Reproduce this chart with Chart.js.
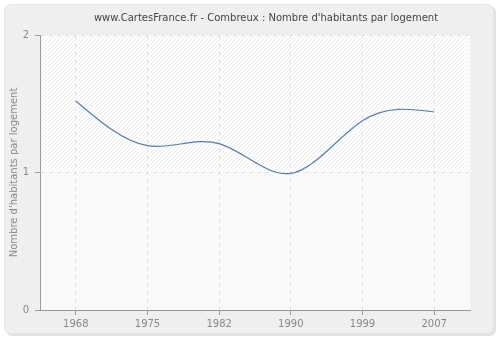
<!DOCTYPE html>
<html>
<head>
<meta charset="utf-8">
<script src="https://cdn.jsdelivr.net/npm/chart.js@4"></script>
<style>
  html, body { margin: 0; padding: 0; background: #ffffff; }
  #wrap { position: relative; width: 500px; height: 340px; }
</style>
</head>
<body>
<div id="wrap"><canvas id="graphique" width="500" height="340"></canvas></div>
<script>
// données du graphique
const annees = ["1968", "1975", "1982", "1990", "1999", "2007"];
const habitantsParLogement = [1.52, 1.195, 1.21, 0.994, 1.377, 1.44];
const ticksY = [0, 1, 2];

const titre = "www.CartesFrance.fr - Combreux : Nombre d'habitants par logement";
const police = "'DejaVu Sans', Verdana, sans-serif";

// fond gris arrondi + zone hachurée
const fondPlugin = {
    id: "fond",
    beforeDraw(chart) {
        const ctx = chart.ctx;
        const a = chart.chartArea;
        ctx.save();
        // ombre
        ctx.fillStyle = "#e2e2e2";
        ctx.beginPath();
        ctx.roundRect(6, 6, 490, 330, 6);
        ctx.fill();
        // panneau
        ctx.fillStyle = "#efefef";
        ctx.strokeStyle = "#e6e6e6";
        ctx.beginPath();
        ctx.roundRect(4.5, 4.5, 489, 329, 6);
        ctx.fill();
        ctx.stroke();

        // zone du graphique
        const yMilieu = chart.scales.y.getPixelForValue(1);
        ctx.fillStyle = "#ffffff";
        ctx.fillRect(a.left, a.top, a.right - a.left, yMilieu - a.top);
        ctx.fillStyle = "#fbfbfb";
        ctx.fillRect(a.left, yMilieu, a.right - a.left, a.bottom - yMilieu);
        const hachures = function (haut, bas, couleur) {
            ctx.save();
            ctx.beginPath();
            ctx.rect(a.left, haut, a.right - a.left, bas - haut);
            ctx.clip();
            ctx.strokeStyle = couleur;
            ctx.lineWidth = 1;
            ctx.beginPath();
            const h = bas - haut;
            for (let x = a.left - h; x < a.right + 4; x += 4) {
                ctx.moveTo(x, bas);
                ctx.lineTo(x + h, haut);
            }
            ctx.stroke();
            ctx.restore();
        };
        hachures(a.top, yMilieu, "#ececec");
        hachures(yMilieu, a.bottom, "#f3f3f3");

        // titre
        ctx.fillStyle = "#444444";
        ctx.font = "10px " + police;
        ctx.textAlign = "center";
        ctx.textBaseline = "middle";
        ctx.fillText(titre, 266, 18);
        ctx.restore();
    }
};

// spline cubique naturelle : on remplace les points de contrôle calculés par Chart.js
const splinePlugin = {
    id: "spline",
    beforeDatasetsDraw(chart) {
        const meta = chart.getDatasetMeta(0);
        const pts = meta.dataset.points;
        const n = pts.length - 1;
        if (n < 2) return;
        const h = pts[1].x - pts[0].x;
        const y = pts.map(p => p.y);
        // système tridiagonal pour les dérivées secondes (M0 = Mn = 0)
        const M = new Array(n + 1).fill(0);
        const c = [], d = [];
        for (let i = 1; i < n; i++) {
            const r = 6 * (y[i + 1] - 2 * y[i] + y[i - 1]) / (h * h);
            const den = 4 - (i > 1 ? c[i - 1] : 0);
            c[i] = 1 / den;
            d[i] = (r - (i > 1 ? d[i - 1] : 0)) / den;
        }
        for (let i = n - 1; i >= 1; i--) {
            M[i] = d[i] - c[i] * (i < n - 1 ? M[i + 1] : 0);
        }
        for (let i = 0; i <= n; i++) {
            let pente;
            if (i < n) {
                pente = (y[i + 1] - y[i]) / h - h * (2 * M[i] + M[i + 1]) / 6;
            } else {
                pente = (y[n] - y[n - 1]) / h + h * (M[n - 1] + 2 * M[n]) / 6;
            }
            pts[i].cp1x = pts[i].x - h / 3;
            pts[i].cp1y = y[i] - pente * h / 3;
            pts[i].cp2x = pts[i].x + h / 3;
            pts[i].cp2y = y[i] + pente * h / 3;
        }
    }
};

const graphique = new Chart(document.getElementById("graphique"), {
    type: "line",
    data: {
        labels: annees,
        datasets: [{
            data: habitantsParLogement,
            borderColor: "#4f7db5",
            borderWidth: 1.2,
            pointRadius: 0,
            fill: false,
            tension: 0.4
        }]
    },
    options: {
        responsive: false,
        animation: false,
        layout: { padding: { top: 35, right: 30, bottom: 0, left: 0 } },
        plugins: {
            legend: { display: false },
            tooltip: { enabled: false }
        },
        scales: {
            x: {
                offset: true,
                grid: {
                    offset: false,
                    color: "#e2e2e2",
                    tickColor: "#999999",
                    tickLength: 5,
                    tickBorderDash: []
                },
                border: { color: "#999999", width: 1, dash: [4, 4] },
                ticks: {
                    color: "#888888",
                    font: { family: police, size: 10 },
                    padding: 3,
                    maxRotation: 0
                },
                afterFit(scale) { scale.height = 30; }
            },
            y: {
                min: 0,
                max: 2,
                afterBuildTicks(scale) {
                    scale.ticks = ticksY.map(v => ({ value: v }));
                },
                grid: {
                    color: "#e2e2e2",
                    tickColor: "#999999",
                    tickLength: 5,
                    tickBorderDash: []
                },
                border: { color: "#999999", width: 1, dash: [4, 4] },
                ticks: {
                    color: "#888888",
                    font: { family: police, size: 10 },
                    padding: 6
                },
                title: {
                    display: true,
                    text: "Nombre d'habitants par logement",
                    color: "#888888",
                    font: { family: police, size: 10 },
                    padding: { top: 8, bottom: 0 }
                },
                afterFit(scale) { scale.width = 40; }
            }
        }
    },
    plugins: [fondPlugin, splinePlugin]
});
</script>
</body>
</html>
